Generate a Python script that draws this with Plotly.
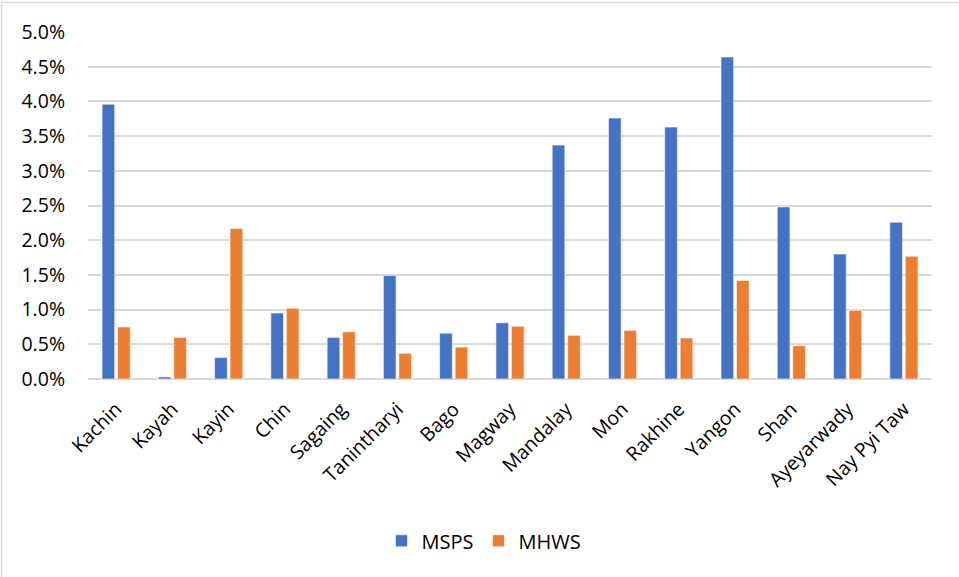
import plotly.graph_objects as go

regions = ["Kachin", "Kayah", "Kayin", "Chin", "Sagaing", "Tanintharyi", "Bago",
           "Magway", "Mandalay", "Mon", "Rakhine", "Yangon", "Shan", "Ayeyarwady",
           "Nay Pyi Taw"]
msps = [3.96, 0.03, 0.31, 0.95, 0.60, 1.49, 0.66, 0.81, 3.37, 3.76, 3.63, 4.64, 2.48, 1.80, 2.26]
mhws = [0.75, 0.60, 2.17, 1.02, 0.68, 0.37, 0.46, 0.76, 0.63, 0.70, 0.59, 1.42, 0.48, 0.99, 1.77]
y_ticks = [0.0, 0.5, 1.0, 1.5, 2.0, 2.5, 3.0, 3.5, 4.0, 4.5, 5.0]

W, H = 959, 577
L, R, T, B = 88, 27, 31.5, 198
pw, ph = W - L - R, H - T - B

FONT = "Open Sans, Segoe UI, sans-serif"
GRID = "#d9d9d9"
FS = 19.5

fig = go.Figure()
fig.add_trace(go.Bar(name="MSPS", x=regions, y=[v / 100 for v in msps],
                     marker=dict(color="#4472C4", line=dict(color="#ffffff", width=0.6))))
fig.add_trace(go.Bar(name="MHWS", x=regions, y=[v / 100 for v in mhws],
                     marker=dict(color="#ED7D31", line=dict(color="#ffffff", width=0.6))))

def px_x(p):
    return (p - L) / pw

def px_y(p):
    return (H - B - p) / ph

# light outline around the whole chart
fig.add_shape(type="rect", xref="paper", yref="paper",
              x0=px_x(1.5), x1=px_x(W + 5), y0=px_y(H + 5), y1=px_y(2),
              line=dict(color=GRID, width=1.5), fillcolor="rgba(0,0,0,0)", layer="below")

fig.update_layout(
    width=W, height=H,
    margin=dict(l=L, r=R, t=T, b=B, pad=0),
    paper_bgcolor="white", plot_bgcolor="white",
    barmode="group", bargap=0.45, bargroupgap=0.18,
    font=dict(family=FONT, size=FS, color="#000000"),
    showlegend=True,
    legend=dict(orientation="h", x=px_x(484), xanchor="center",
                y=px_y(541), yanchor="middle",
                font=dict(family=FONT, size=20, color="#000000"),
                itemwidth=30, tracegroupgap=0),
    xaxis=dict(tickangle=-45, showgrid=False, showline=False, ticks="",
               ticklabelstandoff=14,
               tickfont=dict(family=FONT, size=FS, color="#000000")),
    yaxis=dict(range=[0, 0.05], tickvals=[v / 100 for v in y_ticks],
               ticktext=[f"{v:.1f}%" for v in y_ticks],
               showgrid=True, gridcolor=GRID, gridwidth=1.5,
               zeroline=True, zerolinecolor=GRID, zerolinewidth=1.5,
               showline=False, ticks="", ticklabelstandoff=22,
               tickfont=dict(family=FONT, size=FS, color="#000000")),
)

fig.write_html("out.html")
